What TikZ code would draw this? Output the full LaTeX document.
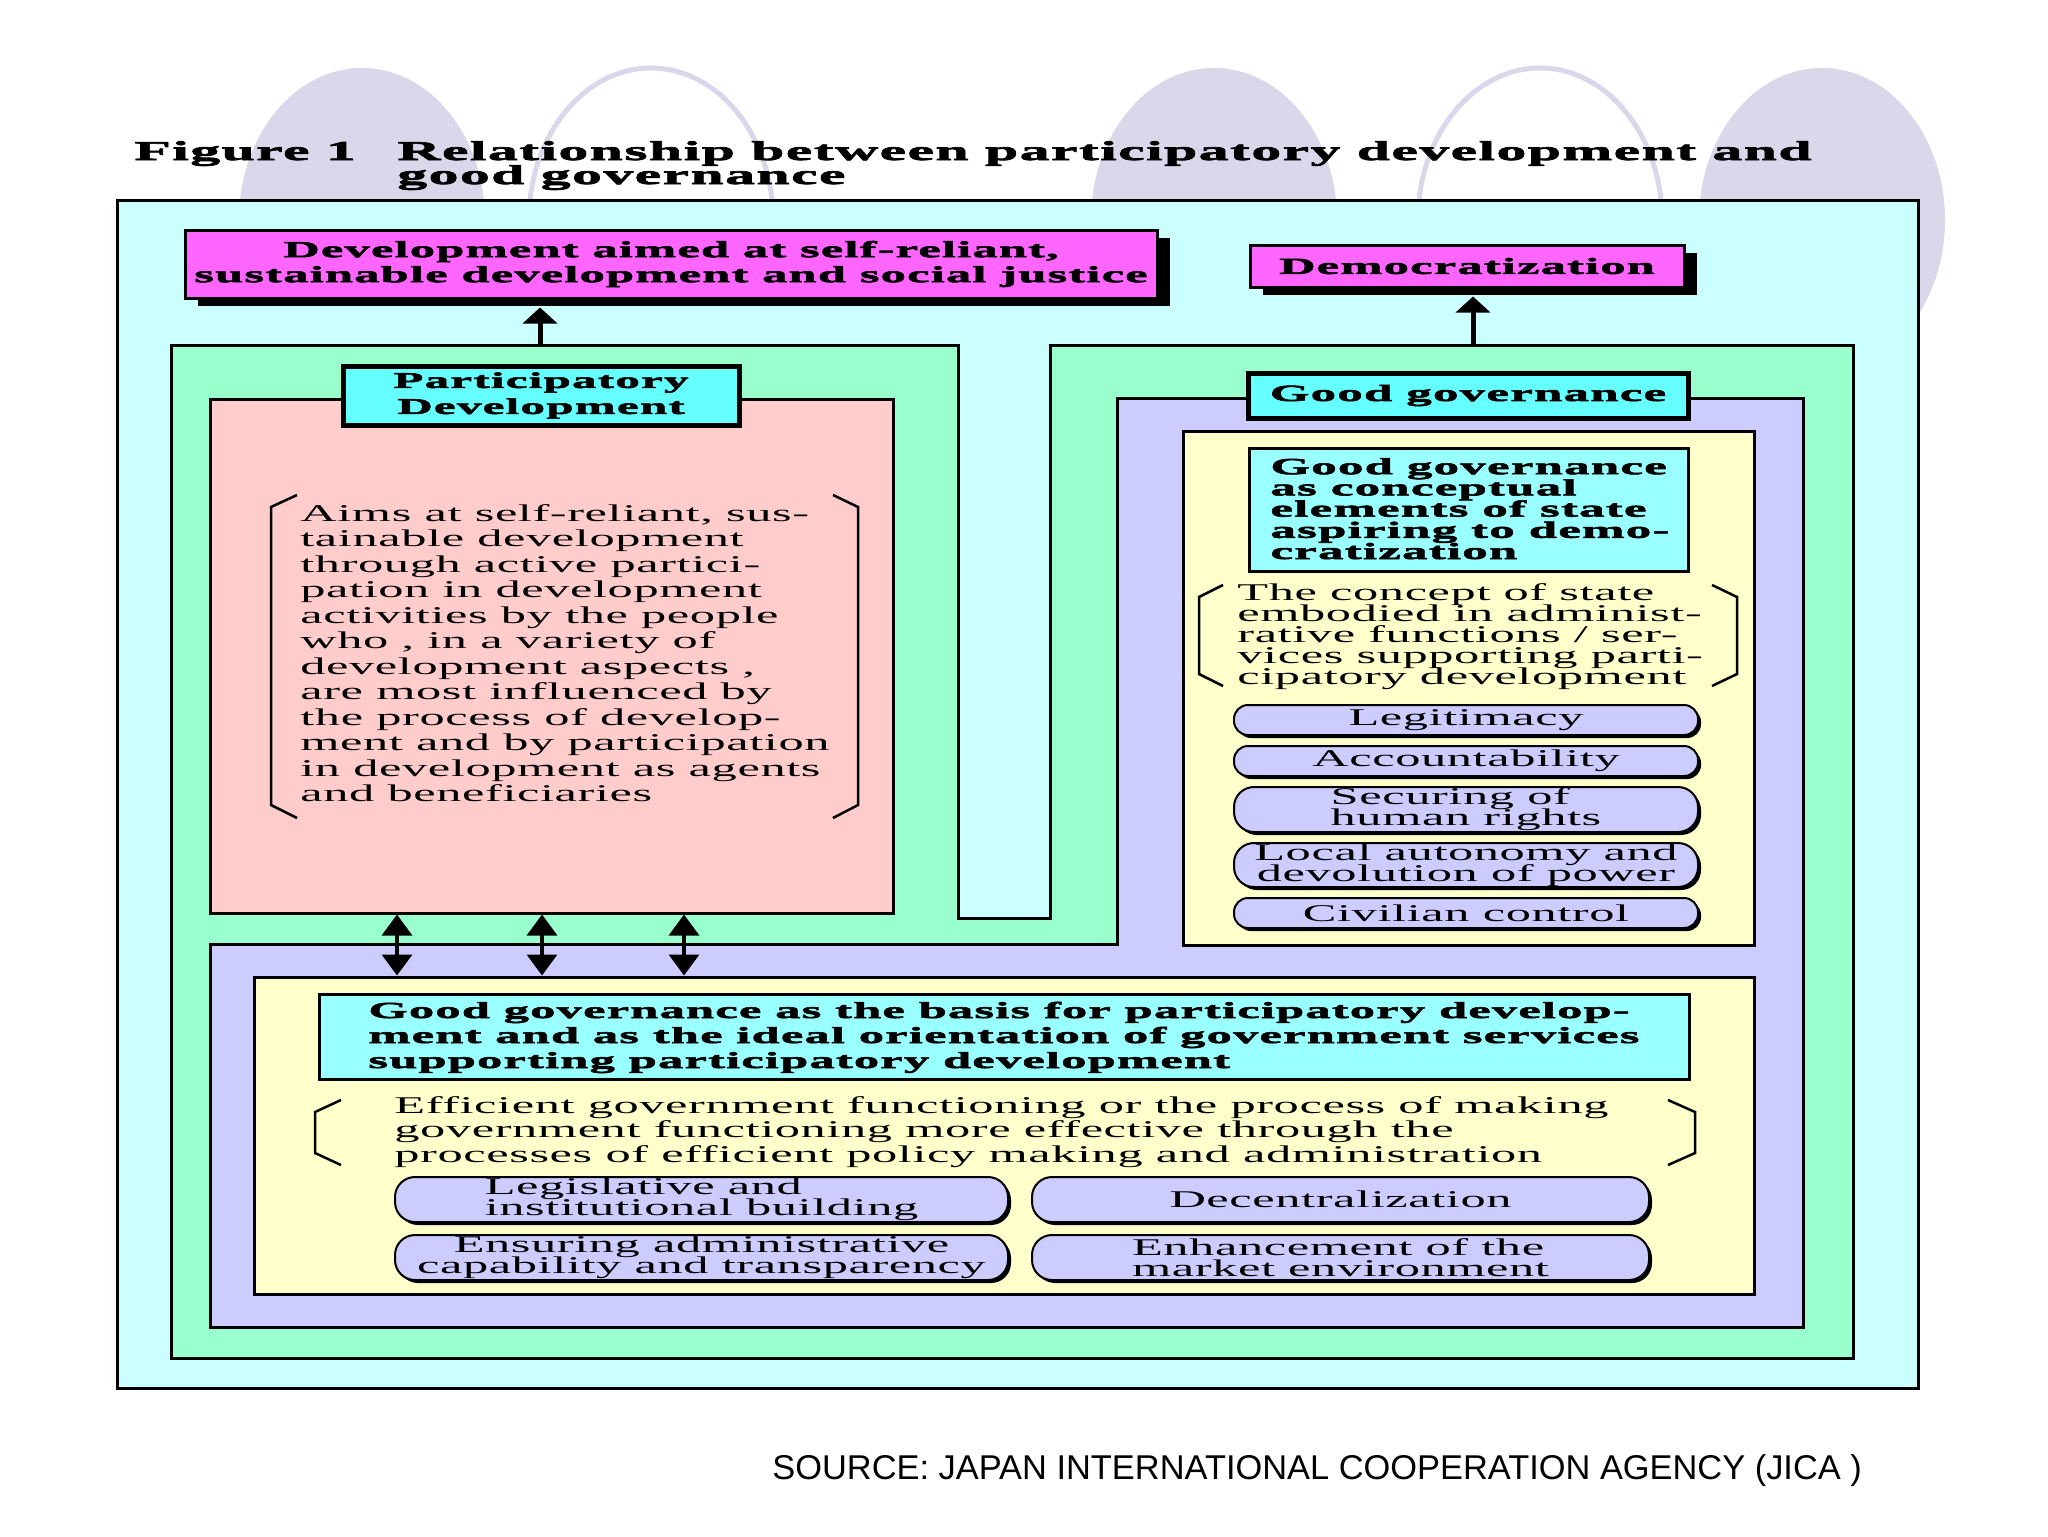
\documentclass[tikz,border=0pt]{standalone}
\usepackage{fontspec}
\setmainfont{Liberation Serif}
\newfontfamily\rgf[FakeStretch=2.1,LetterSpace=2.5]{Liberation Serif}
\newfontfamily\bdf[FakeStretch=2.2,LetterSpace=5,FakeBold=2.5]{Liberation Serif Bold}
\newfontfamily\srcf{Liberation Sans}
\usetikzlibrary{arrows.meta,fit,shadows}
\newcommand\FB[2]{\bdf\fontsize{#1}{#2}\selectfont\lineskiplimit=-100pt\lineskip=0pt\relax}
\newcommand\FR[2]{\rgf\fontsize{#1}{#2}\selectfont\lineskiplimit=-100pt\lineskip=0pt\relax}
\definecolor{cyanbg}{HTML}{CCFFFF}
\definecolor{grn}{HTML}{99FFCC}
\definecolor{pnk}{HTML}{FFCCCC}
\definecolor{lav}{HTML}{CCCCFF}
\definecolor{yel}{HTML}{FFFFCC}
\definecolor{lblc}{HTML}{66FFFF}
\definecolor{lcyan}{HTML}{99FFFF}
\definecolor{mag}{HTML}{FF66FF}
\definecolor{circ}{HTML}{D9D8EA}
\begin{document}
\begin{tikzpicture}[x=0.5pt,y=-0.5pt,
  box/.style={draw=black,line width=1.5pt,inner sep=0pt},
  magbox/.style={draw=black,line width=1.5pt,fill=mag,inner sep=0pt,
    drop shadow={shadow xshift=6.5pt,shadow yshift=-4pt,opacity=1,fill=black}},
  lbl/.style={draw=black,line width=2.5pt,fill=lblc,inner sep=0pt},
  cbox/.style={draw=black,line width=1.5pt,fill=lcyan,inner sep=0pt},
  pill/.style={draw=black,line width=1pt,fill=lav,inner sep=0pt,rounded corners=#1,
    drop shadow={shadow xshift=1.5pt,shadow yshift=-1.5pt,opacity=1,fill=black}},
  upar/.style={line width=2.5pt,-{Triangle[width=17pt,length=8pt]}},
  dbl/.style={line width=1.65pt,{Triangle[width=15pt,length=10.5pt]}-{Triangle[width=15pt,length=10.5pt]}},
  brk/.style={line width=1.25pt},
  txt/.style={inner sep=0pt,anchor=base west,align=left}]
\useasboundingbox (0,0) rectangle (2048,1536);
\fill[white] (0,0) rectangle (2048,1536);
% background ovals
\foreach \cx in {362,1214,1822} \fill[circ] (\cx,220) ellipse [x radius=123, y radius=152];
\foreach \cx in {651,1540} \draw[circ,line width=2.5pt] (\cx,220) ellipse [x radius=122, y radius=152];
% title
\node[txt,font=\FB{13.6pt}{12pt}] (fig) at (134,160) {Figure 1};
\node[txt,font=\FB{13.6pt}{12pt}] (ttl) at (397,184) {Relationship between participatory development and\\good governance};
% outer box
\node[box,fill=cyanbg,fit={(117,200)(1918,1388)}] (outer) {};
% magenta boxes
\node[magbox,minimum width=486pt,minimum height=34pt,align=center,font=\FB{11.5pt}{12.5pt}] (dev) at (671,264)
  {Development aimed at self-reliant,\\sustainable development and social justice};
\node[magbox,minimum width=217pt,minimum height=21pt,font=\FB{11.5pt}{12pt}] (dem) at (1467,266) {Democratization};
% green U
\filldraw[fill=grn,line width=1.5pt] (171,345) -- (958,345) -- (958,918) -- (1050,918) -- (1050,345)
  -- (1853,345) -- (1853,1358) -- (171,1358) -- cycle;
% arrows up
\coordinate (ga) at (540,345);
\coordinate (devb) at ([yshift=-4pt]dev.south);
\draw[upar] (ga) -- (devb -| ga);
\coordinate (gb) at (1473,345);
\coordinate (demb) at ([yshift=-4pt]dem.south);
\draw[upar] (gb) -- (demb -| gb);
% pink
\node[box,fill=pnk,fit={(210,399)(893,913)}] (pink) {};
% lavender L
\filldraw[fill=lav,line width=1.5pt] (1117,398) -- (1803,398) -- (1803,1327) -- (210,1327) -- (210,944)
  -- (1117,944) -- cycle;
% yellow
\node[box,fill=yel,fit={(1183,431)(1754,945)}] (yrt) {};
\node[box,fill=yel,fit={(254,977)(1754,1294)}] (ybot) {};
% labels
\node[lbl,minimum width=198pt,minimum height=29.5pt,align=center,font=\FB{11.2pt}{13pt}] (pdl) at (541,395.5)
  {Participatory\\Development};
\node[lbl,minimum width=220pt,minimum height=22.5pt,font=\FB{11.6pt}{12pt}] (ggl) at (1468,395.5) {Good governance};
% participatory text
\draw[brk] (297,495) -- (271,507) -- (271,805) -- (297,818);
\draw[brk] (833,495) -- (858,507) -- (858,805) -- (833,818);
\node[txt,font=\FR{12pt}{12.75pt}] (aims) at (300,801.5) {Aims at self-reliant, sus-\\tainable development\\through active partici-\\pation in development\\activities by the people\\who , in a variety of\\development aspects ,\\are most influenced by\\the process of develop-\\ment and by participation\\in development as agents\\and beneficiaries};
% right column
\node[cbox,fit={(1249,448)(1688,571)}] (ggc) {};
\node[txt,font=\FB{11.6pt}{10.6pt}] (ggct) at (1270,559) {Good governance\\as conceptual\\elements of state\\aspiring to demo-\\cratization};
\draw[brk] (1223,585) -- (1199,597) -- (1199,674) -- (1223,686);
\draw[brk] (1712,585) -- (1737,597) -- (1737,674) -- (1712,686);
\node[txt,font=\FR{12pt}{10.5pt}] (cst) at (1237,684) {The concept of state\\embodied in administ-\\rative functions / ser-\\vices supporting parti-\\cipatory development};
\node[pill=7pt,minimum width=232pt,minimum height=15pt,font=\FR{12pt}{10.5pt}] (legit) at (1466,720) {Legitimacy};
\node[pill=7pt,minimum width=232pt,minimum height=15pt,font=\FR{12pt}{10.5pt}] (acc) at (1466,761) {Accountability};
\node[pill=10pt,minimum width=232pt,minimum height=22.5pt,align=left,font=\FR{12pt}{10.5pt}] (hr) at (1466,809.5) {Securing of\\human rights};
\node[pill=10pt,minimum width=232pt,minimum height=22pt,align=center,font=\FR{12pt}{10.5pt}] (loc) at (1466,865) {Local autonomy and\\devolution of power};
\node[pill=7pt,minimum width=232pt,minimum height=15pt,font=\FR{12pt}{10.5pt}] (civ) at (1466,913) {Civilian control};
% double arrows
\foreach \x [count=\i] in {397,542,684} {
  \coordinate (d\i) at (\x,0);
  \draw[dbl] (pink.south -| d\i) -- (ybot.north -| d\i);
}
% bottom block
\node[cbox,fit={(319,994)(1689,1079)}] (ggw) {};
\node[txt,font=\FB{11.5pt}{12.5pt}] (ggwt) at (368,1068) {Good governance as the basis for participatory develop-\\ment and as the ideal orientation of government services\\supporting participatory development};
\draw[brk] (341,1100) -- (315,1112) -- (315,1153) -- (341,1165);
\draw[brk] (1668,1100) -- (1695,1112) -- (1695,1153) -- (1668,1165);
\node[txt,font=\FR{12pt}{12.25pt}] (eff) at (394,1162) {Efficient government functioning or the process of making\\government functioning more effective through the\\processes of efficient policy making and administration};
\node[pill=10pt,minimum width=306.5pt,minimum height=22.5pt,align=left,font=\FR{12pt}{10.5pt}] (leg) at (701.5,1199.5) {Legislative and\\institutional building};
\node[pill=10pt,minimum width=306.5pt,minimum height=22.5pt,align=center,font=\FR{12pt}{10.5pt}] (ens) at (701.5,1257.5) {Ensuring administrative\\capability and transparency};
\node[pill=10pt,minimum width=308.5pt,minimum height=22.5pt,font=\FR{12pt}{10.5pt}] (dec) at (1340.5,1199.5) {Decentralization};
\node[pill=10pt,minimum width=308.5pt,minimum height=22.5pt,align=left,font=\FR{12pt}{10.5pt}] (enh) at (1340.5,1257.5) {Enhancement of the\\market environment};
% source
\node[txt,font=\srcf\fontsize{17.2pt}{20pt}\selectfont] (src) at (772,1479) {SOURCE: JAPAN INTERNATIONAL COOPERATION AGENCY (JICA )};
\end{tikzpicture}
\end{document}
